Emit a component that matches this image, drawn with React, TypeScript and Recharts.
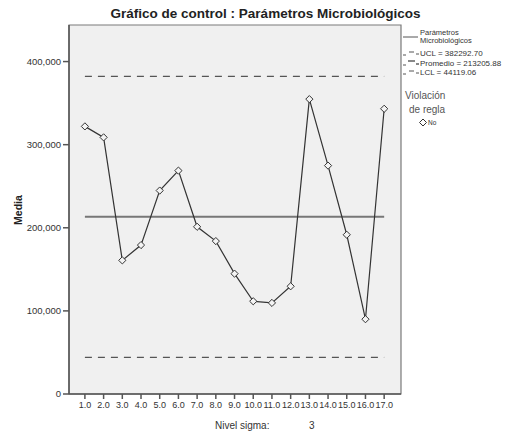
import { LineChart, Line, XAxis, YAxis, ReferenceArea } from 'recharts';

const samples = [1, 2, 3, 4, 5, 6, 7, 8, 9, 10, 11, 12, 13, 14, 15, 16, 17];
const media = [
  322000, 308800, 160800, 179200, 244800, 268800, 201200, 184000, 144800,
  111600, 109600, 129600, 354800, 274800, 191600, 90000, 343200,
];
const UCL = 382292.7;
const CL = 213205.88;
const LCL = 44119.06;
const yTicks = [0, 100000, 200000, 300000, 400000];

const data = samples.map((s, i) => ({ s, media: media[i], ucl: UCL, cl: CL, lcl: LCL }));

const FONT = '"Liberation Sans", Arial, sans-serif';

const Diamond = (props: any) => {
  const { cx, cy, index } = props;
  if (cx == null || cy == null) return null;
  const r = 3.6;
  return (
    <path
      key={`d-${index}`}
      d={`M${cx},${cy - r}L${cx + r},${cy}L${cx},${cy + r}L${cx - r},${cy}Z`}
      fill="#f4f4f4"
      stroke="#333"
      strokeWidth={1}
    />
  );
};

const txt = (extra: any) => ({ position: 'absolute' as const, whiteSpace: 'nowrap' as const, lineHeight: 1, ...extra });

export default function App() {
  return (
    <div style={{ position: 'absolute', left: 0, top: 0, width: 512, height: 438, background: '#fff', fontFamily: FONT }}>
      <LineChart width={512} height={438} data={data} margin={{ top: 25, right: 111, bottom: 0, left: 0 }}>
        <ReferenceArea x1={0.15} x2={17.9} y1={0} y2={444000} fill="#f0f0f0" fillOpacity={1} stroke="#7a7a7a" strokeWidth={1.2} />
        <XAxis
          dataKey="s"
          type="number"
          domain={[0.15, 17.9]}
          ticks={samples}
          tickFormatter={(v: number) => v.toFixed(1)}
          height={44}
          tickSize={5}
          tickMargin={3}
          interval={0}
          stroke="#555"
          strokeWidth={1.5}
          tick={{ fill: '#333', fontSize: 9, fontFamily: FONT }}
        />
        <YAxis
          type="number"
          domain={[0, 444000]}
          ticks={yTicks}
          width={69}
          tickSize={6}
          tickFormatter={(v: number) => v.toLocaleString('en-US')}
          stroke="#555"
          strokeWidth={1.5}
          tick={{ fill: '#333', fontSize: 9.5, fontFamily: FONT }}
        />
        <Line dataKey="ucl" stroke="#555" strokeWidth={1.2} strokeDasharray="7 6" dot={false} isAnimationActive={false} />
        <Line dataKey="lcl" stroke="#555" strokeWidth={1.2} strokeDasharray="7 6" dot={false} isAnimationActive={false} />
        <Line dataKey="cl" stroke="#777" strokeWidth={2} dot={false} isAnimationActive={false} />
        <Line dataKey="media" type="linear" stroke="#333" strokeWidth={1.2} dot={Diamond} isAnimationActive={false} />
      </LineChart>

      <div style={txt({ left: 0, width: 531, top: 7, textAlign: 'center', fontSize: 13.5, fontWeight: 'bold', color: '#222' })}>
        Gráfico de control : Parámetros Microbiológicos
      </div>
      <div style={txt({ left: 18, top: 210, fontSize: 10.5, fontWeight: 'bold', color: '#222', transform: 'translate(-50%, -50%) rotate(-90deg)' })}>
        Media
      </div>
      <div style={txt({ left: 215, top: 421, fontSize: 10, color: '#333' })}>Nivel sigma:</div>
      <div style={txt({ left: 309, top: 421, fontSize: 10, color: '#333' })}>3</div>

      <svg style={{ position: 'absolute', left: 400, top: 25 }} width={32} height={110}>
        <line x1={3} y1={12} x2={18} y2={12} stroke="#555" strokeWidth={1} />
        <line x1={3} y1={30} x2={6} y2={30} stroke="#555" strokeWidth={1} />
        <line x1={9} y1={27} x2={14} y2={27} stroke="#555" strokeWidth={1} />
        <line x1={16} y1={29} x2={19} y2={29} stroke="#555" strokeWidth={1} />
        <line x1={3} y1={40} x2={6} y2={40} stroke="#555" strokeWidth={1} />
        <line x1={8} y1={36} x2={15} y2={36} stroke="#555" strokeWidth={1.4} />
        <line x1={16} y1={39} x2={19} y2={39} stroke="#555" strokeWidth={1.4} />
        <line x1={3} y1={49} x2={6} y2={49} stroke="#555" strokeWidth={1} />
        <line x1={9} y1={46} x2={14} y2={46} stroke="#555" strokeWidth={1} />
        <line x1={16} y1={48} x2={19} y2={48} stroke="#555" strokeWidth={1} />
        <path d="M23,94L19.5,97.5L23,101L26.5,97.5Z" fill="#fff" stroke="#333" strokeWidth={1} />
      </svg>
      <div style={txt({ left: 420, top: 29, fontSize: 7.5, color: '#333' })}>Parámetros</div>
      <div style={txt({ left: 420, top: 36.5, fontSize: 7.5, color: '#333' })}>Microbiológicos</div>
      <div style={txt({ left: 420, top: 50, fontSize: 8, color: '#333' })}>UCL = 382292.70</div>
      <div style={txt({ left: 420, top: 59.5, fontSize: 8, color: '#333' })}>Promedio = 213205.88</div>
      <div style={txt({ left: 420, top: 69, fontSize: 8, color: '#333' })}>LCL = 44119.06</div>
      <div style={txt({ left: 405, top: 91, fontSize: 10, color: '#555' })}>Violación</div>
      <div style={txt({ left: 409, top: 105, fontSize: 10, color: '#555' })}>de regla</div>
      <div style={txt({ left: 428, top: 119.5, fontSize: 6.5, color: '#333' })}>No</div>
    </div>
  );
}
